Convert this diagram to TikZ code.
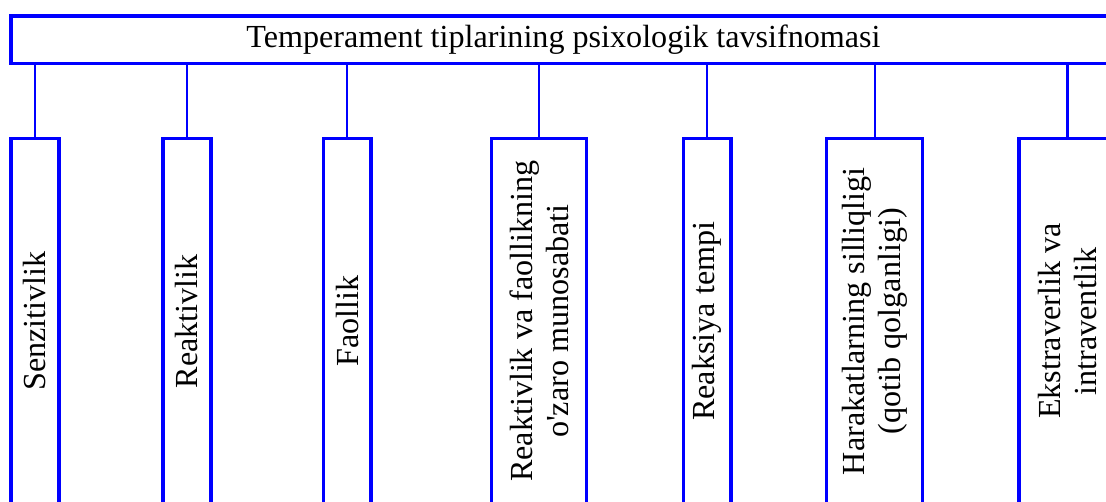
\documentclass[tikz,border=0pt]{standalone}
\usepackage{fontspec}
\setmainfont{Liberation Serif}
\usetikzlibrary{positioning}
\definecolor{frame}{RGB}{0,0,255}

\begin{document}
\begin{tikzpicture}[x=0.75pt,y=-0.75pt,
  headbox/.style={draw=frame,line width=2.6pt,minimum width=828.75pt,minimum height=35.6pt,inner sep=0pt,font=\fontsize{24.1}{27}\selectfont},
  kindbox/.style={draw=frame,line width=2.6pt,rotate=90,minimum width=274.3pt,inner sep=0pt,align=center,font=\fontsize{24.1}{27}\selectfont},
  link/.style={draw=frame,line width=1.6pt}]
  \useasboundingbox (0,0) rectangle (1106,501);
  \clip (0,0) rectangle (1106,501);

  % Header
  \node[headbox] (title) at (563.5,39.75) {Temperament tiplarining psixologik tavsifnomasi};

  % Properties
  \node[kindbox,minimum height=36pt] (senz) at (35,321.2) {Senzitivlik};
  \node[kindbox,minimum height=36pt] (reak) at (187,321.2) {Reaktivlik};
  \node[kindbox,minimum height=35.6pt] (faol) at (347.2,321.2) {Faollik};
  \node[kindbox,minimum height=71.25pt] (muno) at (539.2,321.2) {Reaktivlik va faollikning\\o\textquotesingle zaro munosabati};
  \node[kindbox,minimum height=35.6pt] (temp) at (707.2,321.2) {Reaksiya tempi};
  \node[kindbox,minimum height=72pt] (sill) at (874.7,321.2) {Harakatlarning silliqligi\\(qotib qolganligi)};
  \node[kindbox,minimum height=72.75pt] (ekst) at (1067.5,321.2) {Ekstraverlik va\\intraventlik};

  % Connectors
  \draw[link] (senz.east) -- (senz.east |- title.south);
  \draw[link] (reak.east) -- (reak.east |- title.south);
  \draw[link] (faol.east) -- (faol.east |- title.south);
  \draw[link] (muno.east) -- (muno.east |- title.south);
  \draw[link] (temp.east) -- (temp.east |- title.south);
  \draw[link] (sill.east) -- (sill.east |- title.south);
  \draw[link] (ekst.east) -- (ekst.east |- title.south);
\end{tikzpicture}
\end{document}
